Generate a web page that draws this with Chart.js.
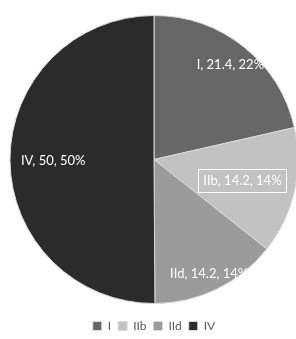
<!DOCTYPE html>
<html>
<head>
<meta charset="utf-8">
<script src="https://cdn.jsdelivr.net/npm/chart.js@4/dist/chart.umd.min.js"></script>
<style>
  html, body { margin: 0; padding: 0; background: #fff; overflow: hidden; }
  #wrap { position: relative; width: 308px; height: 342px; }
</style>
</head>
<body>
<div id="wrap"><canvas id="pie"></canvas></div>
<script>
// Data
const categories = ["I", "IIb", "IId", "IV"];
const values = [21.4, 14.2, 14.2, 50];
const percents = [22, 14, 14, 50];

const sliceColors = ["#676767", "#c2c2c2", "#9b9b9b", "#2b2b2b"];
// how far out (fraction of radius) each data label sits
const labelRadius = [0.85, 0.63, 0.875, 0.70];
const boxedLabel = [false, true, false, false];

// Draw "name, value, pct%" labels on the slices
const sliceLabels = {
    id: "sliceLabels",
    afterDatasetsDraw(chart) {
        const ctx = chart.ctx;
        const arcs = chart.getDatasetMeta(0).data;
        ctx.save();
        ctx.font = "13px Lato";
        ctx.textAlign = "center";
        ctx.textBaseline = "middle";
        arcs.forEach(function(arc, i) {
            const p = arc.getProps(["x", "y", "startAngle", "endAngle", "outerRadius"], true);
            const mid = (p.startAngle + p.endAngle) / 2;
            const r = p.outerRadius * labelRadius[i];
            const lx = p.x + Math.cos(mid) * r;
            const ly = p.y + Math.sin(mid) * r;
            const text = categories[i] + ", " + values[i] + ", " + percents[i] + "%";
            if (boxedLabel[i]) {
                const w = ctx.measureText(text).width + 10;
                ctx.strokeStyle = "#ffffff";
                ctx.lineWidth = 1;
                ctx.strokeRect(Math.round(lx - w / 2) + 0.5, Math.round(ly - 11) + 0.5, Math.round(w), 23);
            }
            ctx.fillStyle = "#ffffff";
            ctx.fillText(text, lx, ly + 1);
        });
        ctx.restore();
    }
};

const ctx = document.getElementById("pie").getContext("2d");
new Chart(ctx, {
    type: "pie",
    data: {
        labels: categories,
        datasets: [{
            data: values,
            backgroundColor: sliceColors,
            borderColor: "#d9d9d9",
            borderWidth: 1,
            radius: 144
        }]
    },
    options: {
        responsive: true,
        maintainAspectRatio: false,
        animation: false,
        layout: { padding: { top: 6, bottom: 0 } },
        plugins: {
            legend: {
                position: "bottom",
                labels: {
                    color: "#595959",
                    font: { family: "Lato", size: 12 },
                    boxWidth: 9,
                    boxHeight: 9,
                    padding: 7
                }
            },
            tooltip: { enabled: false }
        }
    },
    plugins: [sliceLabels]
});
</script>
</body>
</html>
